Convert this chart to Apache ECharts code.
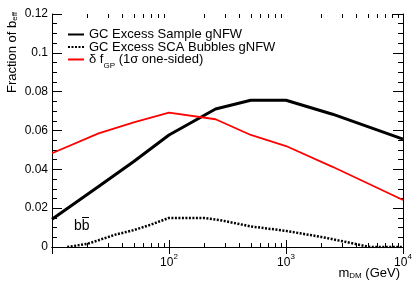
<!DOCTYPE html>
<html>
<head>
<meta charset="utf-8">
<script src="https://cdn.jsdelivr.net/npm/echarts@6/dist/echarts.min.js"></script>
<style>html,body{margin:0;padding:0;background:#fff;}#c{width:415px;height:284px;}</style>
</head>
<body>
<div id="c"></div>
<script>
// ---- data ----
var sampleX = [10, 25, 50, 100, 250, 500, 1000, 2500, 10000];
var sampleY = [0.0143, 0.0312, 0.0440, 0.0577, 0.0711, 0.0756, 0.0756, 0.0684, 0.0556];
var bubblesX = [13.5, 20, 25, 35, 50, 70, 100, 200, 270, 500, 1000, 2000, 3500, 5200, 10000];
var bubblesY = [0, 0.0016, 0.0035, 0.0064, 0.0087, 0.0115, 0.0150, 0.0149, 0.0139, 0.0106, 0.0083, 0.0052, 0.0022, 0, 0];
var gpX = [10, 25, 50, 100, 250, 500, 1000, 2500, 10000];
var gpY = [0.0483, 0.0585, 0.0642, 0.0692, 0.0658, 0.0577, 0.0520, 0.0413, 0.0242];
var seriesNames = ['GC Excess Sample gNFW', 'GC Excess SCA Bubbles gNFW', 'δ f{sub|GP} (1σ one-sided)'];
var minorX = [20,30,40,50,60,70,80,90,200,300,400,500,600,700,800,900,2000,3000,4000,5000,6000,7000,8000,9000];
var yTickLabels = ['0', '0.02', '0.04', '0.06', '0.08', '0.1', '0.12'];

function zip(xs, ys) { return xs.map(function (x, i) { return [x, ys[i]]; }); }

var FONT = 'Liberation Sans, Arial, Helvetica, sans-serif';
var chart = echarts.init(document.getElementById('c'), null, {renderer: 'canvas'});

var xBase = {
  type: 'log', logBase: 10, min: 10, max: 10000,
  axisLine: {show: true, lineStyle: {color: '#000', width: 1}},
  splitLine: {show: false},
  axisTick: {show: true, inside: true, length: 7, lineStyle: {color: '#000'}}
};
var yBase = {
  type: 'value', min: 0, max: 0.12, interval: 0.02,
  axisLine: {show: true, lineStyle: {color: '#000', width: 1}},
  splitLine: {show: false},
  axisTick: {show: true, inside: true, length: 10, lineStyle: {color: '#000'}},
  minorTick: {show: true, splitNumber: 4, length: 5, lineStyle: {color: '#000'}}
};

var option = {
  animation: false,
  backgroundColor: '#fff',
  grid: {left: 52, right: 12, top: 14, bottom: 37, containLabel: false},
  xAxis: [
    Object.assign({}, xBase, {
      position: 'bottom',
      axisLabel: {
        show: true, margin: 6, color: '#000', fontFamily: FONT,
        formatter: function (v) {
          if (v <= 10) return '';
          var e = Math.round(Math.log(v) / Math.LN10);
          return '{b|10}{s|' + e + '}';
        },
        rich: {
          b: {fontSize: 12, fontFamily: FONT, color: '#000', lineHeight: 16, verticalAlign: 'bottom'},
          s: {fontSize: 8, fontFamily: FONT, color: '#000', lineHeight: 10, verticalAlign: 'top'}
        }
      }
    }),
    Object.assign({}, xBase, {position: 'top', axisLabel: {show: false}})
  ],
  yAxis: [
    Object.assign({}, yBase, {
      position: 'left',
      axisLabel: {show: true, margin: 4, fontSize: 12, color: '#000', fontFamily: FONT,
        formatter: function (v) { return yTickLabels[Math.round(v / 0.02)]; }}
    }),
    Object.assign({}, yBase, {position: 'right', axisLabel: {show: false}})
  ],
  legend: {
    orient: 'vertical', left: 67, top: 28, padding: 0,
    itemWidth: 16, itemHeight: 1, itemGap: -0.5,
    itemStyle: {opacity: 0},
    data: seriesNames,
    textStyle: {fontSize: 13, fontFamily: FONT, color: '#000', lineHeight: 12,
      rich: {sub: {fontSize: 8, fontFamily: FONT, color: '#000', lineHeight: 8, verticalAlign: 'bottom', padding: [0,0,-4,0]}}}
  },
  series: [
    {name: seriesNames[0], type: 'line', data: zip(sampleX, sampleY), symbol: 'none',
      lineStyle: {color: '#000', width: 3}, itemStyle: {color: '#000'}},
    {name: seriesNames[1], type: 'line', data: zip(bubblesX, bubblesY), symbol: 'none',
      lineStyle: {color: '#000', width: 2.5, type: [2, 1.5]}, itemStyle: {color: '#000'}},
    {name: seriesNames[2], type: 'line', data: zip(gpX, gpY), symbol: 'none',
      lineStyle: {color: '#ff0000', width: 1.8}, itemStyle: {color: '#ff0000'}},
    {name: 'minorTicks', type: 'custom', silent: true, clip: false, xAxisIndex: 0, yAxisIndex: 0,
      data: minorX.map(function (v) { return [v, 0]; }),
      renderItem: function (params, api) {
        var b = api.coord([api.value(0), 0]);
        var t = api.coord([api.value(0), 0.12]);
        var x = Math.round(b[0]) + 0.5;
        return {type: 'group', children: [
          {type: 'line', shape: {x1: x, y1: b[1], x2: x, y2: b[1] - 4}, style: {stroke: '#000', lineWidth: 1}},
          {type: 'line', shape: {x1: x, y1: t[1], x2: x, y2: t[1] + 4}, style: {stroke: '#000', lineWidth: 1}}
        ]};
      }
    }
  ],
  graphic: [
    {type: 'text', x: 12, y: 93, rotation: Math.PI / 2,
      style: {text: 'Fraction of b{sub|eff}', fontSize: 13, fontFamily: FONT, fill: '#000',
        textAlign: 'left', textVerticalAlign: 'middle',
        rich: {sub: {fontSize: 8, fontFamily: FONT, fill: '#000', padding: [0,0,-6,0]}}}},
    {type: 'text', x: 400, y: 273,
      style: {text: 'm{sub|DM} (GeV)', fontSize: 13, fontFamily: FONT, fill: '#000',
        textAlign: 'right', textVerticalAlign: 'middle',
        rich: {sub: {fontSize: 8, fontFamily: FONT, fill: '#000', padding: [0,0,-6,0]}}}},
    {type: 'text', x: 74, y: 226,
      style: {text: 'bb', fontSize: 14, fontFamily: FONT, fill: '#000', textAlign: 'left', textVerticalAlign: 'middle'}},
    {type: 'line', shape: {x1: 82, y1: 217.5, x2: 89, y2: 217.5}, style: {stroke: '#000', lineWidth: 1}}
  ]
};
chart.setOption(option);
</script>
</body>
</html>
